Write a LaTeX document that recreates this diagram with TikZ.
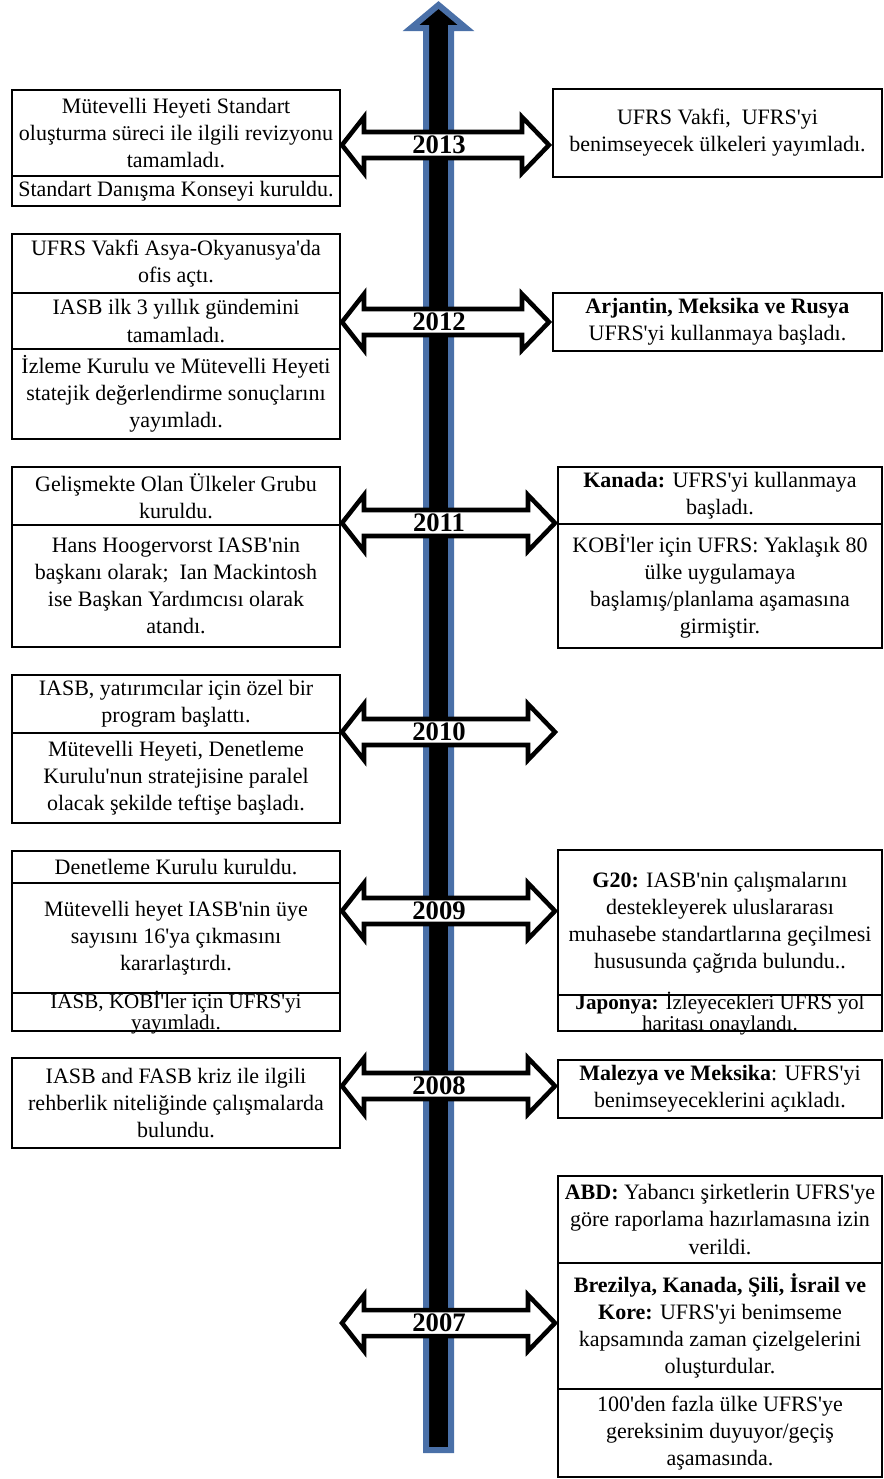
\documentclass[tikz,border=0pt]{standalone}
\usepackage{fontspec}
\setmainfont{Liberation Serif}[Ligatures=TeXOff]
\usetikzlibrary{fit}
\definecolor{axisblue}{RGB}{74,112,168}
\tikzset{
  frame/.style={draw=black, line width=1.5pt, fill=white, inner sep=0pt},
  boxtext/.style={inner sep=0pt, align=center, font=\fontsize{16.5}{20.3}\selectfont},
  tighttext/.style={boxtext, font=\fontsize{15.8}{12.8}\selectfont, yshift=-0.3pt},
  harrow/.style={draw=black, fill=white, line width=3.4pt, line join=miter},
  yearlbl/.style={font=\fontsize{20}{22}\selectfont\bfseries, inner sep=0pt},
  axisarrow/.style={fill=black, draw=axisblue, line width=4.5pt, line join=miter}
}
\newcommand{\yeararrow}[3]{%
  \draw[harrow] (342,#1) -- (364,#1-28) -- (364,#1-13) -- (#2-27,#1-13) -- (#2-27,#1-28)
    -- (#2,#1) -- (#2-27,#1+28) -- (#2-27,#1+13) -- (364,#1+13) -- (364,#1+28) -- cycle;
  \node[yearlbl] (y#3) at (439,#1) {#3};
}
\newcommand{\infobox}[5][boxtext]{%
  \node[frame, fit={(#3)(#4)}] (#2) {};
  \node[#1] (#2t) at (#2.center) {#5};
}
\begin{document}
\begin{tikzpicture}[x=0.75pt, y=-0.75pt]
\useasboundingbox (0,0) rectangle (884,1479);
% central time axis
\draw[axisarrow] (438.5,5) -- (466,28) -- (451,28) -- (451,1450) -- (426,1450) -- (426,28) -- (411,28) -- cycle;
% year arrows
\yeararrow{145}{549}{2013}
\yeararrow{322}{549}{2012}
\yeararrow{523}{555}{2011}
\yeararrow{732}{555}{2010}
\yeararrow{911}{555}{2009}
\yeararrow{1086}{555}{2008}
\yeararrow{1323}{555}{2007}
% 2013
\infobox{l13a}{12,90}{340,176}{Mütevelli Heyeti Standart\\oluşturma süreci ile ilgili revizyonu\\tamamladı.}
\infobox{l13b}{12,176}{340,206}{Standart Danışma Konseyi kuruldu.}
\infobox{r13a}{553,89}{882,177}{UFRS Vakfi,~ UFRS'yi\\benimseyecek ülkeleri yayımladı.}
% 2012
\infobox{l12a}{12,234}{340,293}{UFRS Vakfi Asya-Okyanusya'da\\ofis açtı.}
\infobox{l12b}{12,293}{340,349}{IASB ilk 3 yıllık gündemini\\tamamladı.}
\infobox{l12c}{12,349}{340,439}{İzleme Kurulu ve Mütevelli Heyeti\\statejik değerlendirme sonuçlarını\\yayımladı.}
\infobox{r12a}{553,293}{882,351}{\textbf{Arjantin, Meksika ve Rusya}\\UFRS'yi kullanmaya başladı.}
% 2011
\infobox{l11a}{12,467}{340,525}{Gelişmekte Olan Ülkeler Grubu\\kuruldu.}
\infobox{l11b}{12,525}{340,647}{Hans Hoogervorst IASB'nin\\başkanı olarak;~ Ian Mackintosh\\ise Başkan Yardımcısı olarak\\atandı.}
\infobox{r11a}{558,467}{882,524}{\textbf{Kanada:} UFRS'yi kullanmaya\\başladı.}
\infobox{r11b}{558,524}{882,648}{KOBİ'ler için UFRS: Yaklaşık 80\\ülke uygulamaya\\başlamış/planlama aşamasına\\girmiştir.}
% 2010
\infobox{l10a}{12,675}{340,733}{IASB, yatırımcılar için özel bir\\program başlattı.}
\infobox{l10b}{12,733}{340,823}{Mütevelli Heyeti, Denetleme\\Kurulu'nun stratejisine paralel\\olacak şekilde teftişe başladı.}
% 2009
\infobox{l09a}{12,851}{340,883}{Denetleme Kurulu kuruldu.}
\infobox{l09b}{12,883}{340,993}{Mütevelli heyet IASB'nin üye\\sayısını 16'ya çıkmasını\\kararlaştırdı.}
\infobox[tighttext]{l09c}{12,993}{340,1031}{IASB, KOBİ'ler için UFRS'yi\\yayımladı.}
\infobox{r09a}{558,850}{882,995}{\textbf{G20:} IASB'nin çalışmalarını\\destekleyerek uluslararası\\muhasebe standartlarına geçilmesi\\hususunda çağrıda bulundu..}
\infobox[tighttext]{r09b}{558,995}{882,1031}{\textbf{Japonya:} İzleyecekleri UFRS yol\\haritası onaylandı.}
% 2008
\infobox{l08a}{12,1058}{340,1148}{IASB and FASB kriz ile ilgili\\rehberlik niteliğinde çalışmalarda\\bulundu.}
\infobox{r08a}{558,1060}{882,1118}{\textbf{Malezya ve Meksika}: UFRS'yi\\benimseyeceklerini açıkladı.}
% 2007
\infobox{r07a}{558,1176}{882,1263}{\textbf{ABD:} Yabancı şirketlerin UFRS'ye\\göre raporlama hazırlamasına izin\\verildi.}
\infobox{r07b}{558,1263}{882,1389}{\textbf{Brezilya, Kanada, Şili, İsrail ve}\\\textbf{Kore:} UFRS'yi benimseme\\kapsamında zaman çizelgelerini\\oluşturdular.}
\infobox{r07c}{558,1389}{882,1477}{100'den fazla ülke UFRS'ye\\gereksinim duyuyor/geçiş\\aşamasında.}
\end{tikzpicture}
\end{document}
